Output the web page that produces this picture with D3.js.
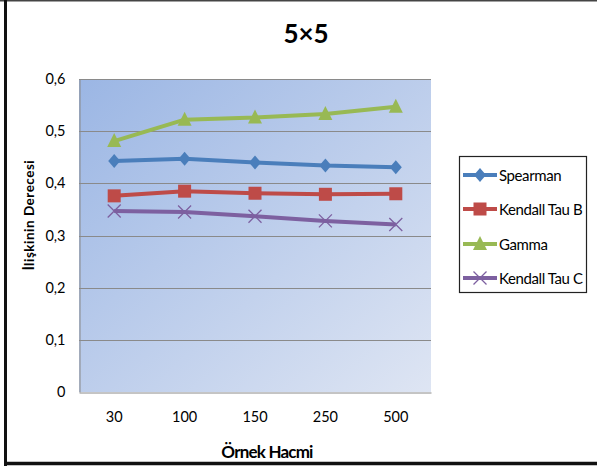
<!DOCTYPE html>
<html>
<head>
<meta charset="utf-8">
<script src="https://cdn.jsdelivr.net/npm/d3@7"></script>
<style>
  html, body { margin: 0; padding: 0; background: #fff; }
  svg { display: block; font-family: Lato, "Open Sans", sans-serif; }
</style>
</head>
<body>
<svg id="chart" width="597" height="470"></svg>
<script>
// Sample sizes on the x axis
const categories = ["30", "100", "150", "250", "500"];

// Correlation measures per sample size
const spearman   = [0.443, 0.447, 0.440, 0.434, 0.431];
const kendallB   = [0.376, 0.385, 0.381, 0.379, 0.380];
const gamma      = [0.481, 0.522, 0.526, 0.533, 0.547];
const kendallC   = [0.347, 0.345, 0.337, 0.328, 0.321];

const yTicks = [0, 0.1, 0.2, 0.3, 0.4, 0.5, 0.6];

const seriesList = [
  { name: "Spearman",      values: spearman, color: "#4a7ebb", marker: "diamond" },
  { name: "Kendall Tau B", values: kendallB, color: "#be4b48", marker: "square" },
  { name: "Gamma",         values: gamma,    color: "#98b954", marker: "triangle" },
  { name: "Kendall Tau C", values: kendallC, color: "#7d60a0", marker: "x" }
];

const svg = d3.select("#chart");
const plot = { left: 79, right: 431, top: 79, bottom: 392 };

// Plot-area gradient
const defs = svg.append("defs");
const grad = defs.append("linearGradient")
  .attr("id", "plotBg")
  .attr("x1", "0%").attr("y1", "0%").attr("x2", "100%").attr("y2", "100%");
grad.append("stop").attr("offset", "0%").attr("stop-color", "#9bb6e4");
grad.append("stop").attr("offset", "100%").attr("stop-color", "#dee5f3");

// Outer frame
svg.append("line").attr("x1", 0).attr("x2", 597).attr("y1", 0.8).attr("y2", 0.8)
  .attr("stroke", "#444").attr("stroke-width", 1.6);
svg.append("line").attr("x1", 5.5).attr("x2", 5.5).attr("y1", 0).attr("y2", 466)
  .attr("stroke", "#111").attr("stroke-width", 3);
svg.append("line").attr("x1", 4).attr("x2", 597).attr("y1", 463.5).attr("y2", 463.5)
  .attr("stroke", "#111").attr("stroke-width", 3.5);

const x = d3.scaleBand().domain(categories).range([plot.left, plot.right]);
const y = d3.scaleLinear().domain([0, 0.6]).range([plot.bottom, plot.top]);

svg.append("rect")
  .attr("x", plot.left).attr("y", plot.top)
  .attr("width", plot.right - plot.left).attr("height", plot.bottom - plot.top)
  .attr("fill", "url(#plotBg)");

// Gridlines
svg.append("g").selectAll("line").data(yTicks.filter(d => d > 0)).join("line")
  .attr("x1", plot.left).attr("x2", plot.right)
  .attr("y1", d => Math.round(y(d)) + 0.5).attr("y2", d => Math.round(y(d)) + 0.5)
  .attr("stroke", "#8a8a8a").attr("stroke-width", 1);

// Axes
const yAxis = svg.append("g")
  .attr("transform", `translate(${plot.left + 0.5},0)`)
  .call(d3.axisLeft(y).tickValues(yTicks).tickSize(0).tickPadding(14)
    .tickFormat(d => d3.format(".1f")(d).replace(".", ",").replace(/^0,0$/, "0")));
yAxis.select(".domain").attr("stroke", "#8a8a8a");
yAxis.selectAll("text").attr("font-size", 14.5).attr("fill", "#000")
  .attr("font-family", "Lato, sans-serif");

const xAxis = svg.append("g")
  .attr("transform", `translate(0,${plot.bottom + 0.5})`)
  .call(d3.axisBottom(x).tickSize(0).tickPadding(19));
xAxis.select(".domain").attr("stroke", "#8a8a8a");
xAxis.selectAll("text").attr("font-size", 14.5).attr("fill", "#000")
  .attr("font-family", "Lato, sans-serif");

const cx = d => x(d) + x.bandwidth() / 2;

function drawMarker(g, type, color) {
  if (type === "diamond") {
    g.append("path").attr("d", "M0,-7L6,0L0,7L-6,0Z").attr("fill", color);
  } else if (type === "square") {
    g.append("rect").attr("x", -6.5).attr("y", -6.5).attr("width", 13).attr("height", 13)
      .attr("fill", color);
  } else if (type === "triangle") {
    g.append("path").attr("d", "M0,-8L7,6L-7,6Z").attr("fill", color);
  } else {
    g.append("path").attr("d", "M-6.5,-6.5L6.5,6.5M-6.5,6.5L6.5,-6.5")
      .attr("stroke", color).attr("stroke-width", 1.3).attr("fill", "none");
  }
}

const line = d3.line().x((d, i) => cx(categories[i])).y(d => y(d));

seriesList.forEach(s => {
  svg.append("path").datum(s.values)
    .attr("d", line).attr("fill", "none")
    .attr("stroke", s.color).attr("stroke-width", 4).attr("stroke-linejoin", "round");
  s.values.forEach((v, i) => {
    const g = svg.append("g").attr("transform", `translate(${cx(categories[i])},${y(v)})`);
    drawMarker(g, s.marker, s.color);
  });
});

// Title
svg.append("text").attr("x", 306).attr("y", 43).attr("text-anchor", "middle")
  .attr("font-size", 26).attr("font-weight", "bold").text("5×5");

// Axis titles
svg.append("text").attr("x", 267).attr("y", 458).attr("text-anchor", "middle")
  .attr("font-size", 17).attr("font-weight", "bold").attr("letter-spacing", -0.8)
  .text("Örnek Hacmi");
svg.append("text").attr("transform", "translate(34,215) rotate(-90)")
  .attr("text-anchor", "middle").attr("font-size", 13.5).attr("font-weight", "bold")
  .attr("letter-spacing", 0.5)
  .text("İlişkinin Derecesi");

// Legend
const legend = svg.append("g");
legend.append("rect").attr("x", 459.5).attr("y", 156.5).attr("width", 127).attr("height", 136)
  .attr("fill", "#fff").attr("stroke", "#222").attr("stroke-width", 1.2);
const legendY = [175, 209, 244, 278];
seriesList.forEach((s, i) => {
  const g = legend.append("g").attr("transform", `translate(0,${legendY[i]})`);
  g.append("line").attr("x1", 463).attr("x2", 497).attr("y1", 0).attr("y2", 0)
    .attr("stroke", s.color).attr("stroke-width", 4);
  const m = g.append("g").attr("transform", "translate(480,0)");
  drawMarker(m, s.marker, s.color);
  g.append("text").attr("x", 499).attr("y", 5.5).attr("font-size", 15)
    .attr("letter-spacing", -0.4).text(s.name);
});
</script>
</body>
</html>
